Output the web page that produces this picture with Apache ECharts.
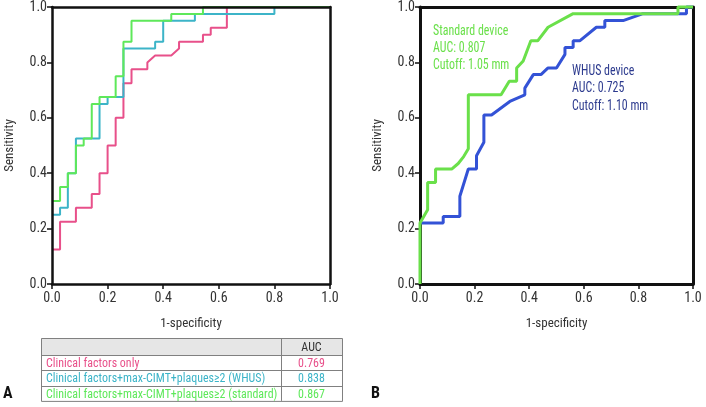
<!DOCTYPE html>
<html><head><meta charset="utf-8">
<script src="https://cdn.jsdelivr.net/npm/echarts@6/dist/echarts.min.js"></script>
<style>html,body{margin:0;padding:0;background:#fff}#c{width:706px;height:407px}</style>
</head><body><div id="c"></div>
<script>
const FONT = "'Liberation Sans Narrow','Roboto Condensed','Arial Narrow',sans-serif";
const tickValues = [0, 0.2, 0.4, 0.6, 0.8, 1.0];
const xAxisTitle = '1-specificity';
const yAxisTitle = 'Sensitivity';

// Panel A: ROC curves [1-specificity, sensitivity]
const clinicalOnly = [[0,0.125],[0.029,0.125],[0.029,0.225],[0.086,0.225],[0.086,0.275],[0.143,0.275],[0.143,0.325],[0.171,0.325],[0.171,0.40],[0.2,0.40],[0.2,0.50],[0.229,0.50],[0.229,0.60],[0.257,0.60],[0.257,0.725],[0.286,0.725],[0.286,0.775],[0.343,0.775],[0.343,0.80],[0.371,0.825],[0.429,0.825],[0.457,0.85],[0.457,0.875],[0.543,0.875],[0.543,0.90],[0.571,0.90],[0.571,0.925],[0.629,0.925],[0.629,1.0],[1.0,1.0]];
const clinicalWHUS = [[0,0.25],[0.029,0.25],[0.029,0.275],[0.057,0.275],[0.057,0.40],[0.086,0.40],[0.086,0.525],[0.171,0.525],[0.171,0.65],[0.2,0.65],[0.2,0.675],[0.257,0.675],[0.257,0.85],[0.371,0.85],[0.371,0.875],[0.40,0.875],[0.40,0.95],[0.514,0.95],[0.514,0.975],[0.80,0.975],[0.80,1.0],[1.0,1.0]];
const clinicalStandard = [[0,0.30],[0.029,0.30],[0.029,0.35],[0.057,0.35],[0.057,0.40],[0.086,0.40],[0.086,0.50],[0.114,0.50],[0.114,0.525],[0.143,0.525],[0.143,0.65],[0.171,0.65],[0.171,0.675],[0.229,0.675],[0.229,0.75],[0.257,0.75],[0.257,0.875],[0.286,0.875],[0.286,0.95],[0.429,0.95],[0.429,0.975],[0.543,0.975],[0.543,1.0],[1.0,1.0]];

// Panel B
const standardDevice = [[0,0],[0,0.22],[0.028,0.268],[0.028,0.366],[0.057,0.366],[0.057,0.415],[0.116,0.415],[0.14,0.435],[0.16,0.46],[0.177,0.488],[0.177,0.683],[0.297,0.683],[0.327,0.732],[0.354,0.732],[0.354,0.78],[0.378,0.805],[0.406,0.878],[0.431,0.878],[0.469,0.927],[0.561,0.976],[0.945,0.976],[0.945,1.0],[1.0,1.0]];
const whusDevice = [[0,0.22],[0.085,0.22],[0.085,0.244],[0.146,0.244],[0.146,0.317],[0.177,0.415],[0.207,0.415],[0.207,0.463],[0.234,0.512],[0.234,0.61],[0.262,0.61],[0.329,0.659],[0.384,0.683],[0.384,0.707],[0.415,0.756],[0.443,0.756],[0.469,0.78],[0.5,0.78],[0.531,0.829],[0.531,0.854],[0.561,0.854],[0.561,0.878],[0.585,0.878],[0.646,0.927],[0.677,0.927],[0.677,0.951],[0.744,0.951],[0.817,0.976],[0.976,0.976],[0.976,1.0],[1.0,1.0]];

const tableHeader = ['', 'AUC'];
const tableLabels = ['Clinical factors only', 'Clinical factors+max-CIMT+plaques\u22652 (WHUS)', 'Clinical factors+max-CIMT+plaques\u22652 (standard)'];
const tableAUC = ['0.769', '0.838', '0.867'];
const colorsA = ['#e8508a', '#3cb4c8', '#5ee85a'];

const standardText = ['Standard device', 'AUC: 0.807', 'Cutoff: 1.05 mm'];
const whusText = ['WHUS device', 'AUC: 0.725', 'Cutoff: 1.10 mm'];
const colorsB = ['#6ae04a', '#3352d6'];
const whusTextColor = '#2c3a8e';

const chart = echarts.init(document.getElementById('c'), null, {renderer: 'canvas'});

function xAxes(gi, z, lw) {
  return [
    {gridIndex: gi, type: 'value', min: 0, max: 1, interval: 0.2, position: 'bottom', z: z,
     axisLine: {onZero: false, lineStyle: {color: '#111', width: lw}},
     axisTick: {length: 5, lineStyle: {color: '#111', width: 1.5}},
     axisLabel: {formatter: v => v.toFixed(1), fontSize: 14, color: '#333', margin: 7, fontFamily: FONT},
     splitLine: {show: false},
     name: xAxisTitle, nameLocation: 'middle', nameGap: 33,
     nameTextStyle: {fontSize: 13, color: '#333', fontFamily: FONT}},
    {gridIndex: gi, type: 'value', min: 0, max: 1, interval: 0.2, position: 'top', z: z,
     axisLine: {onZero: false, lineStyle: {color: '#111', width: lw}},
     axisTick: {show: false}, axisLabel: {show: false}, splitLine: {show: false}}
  ];
}
function yAxes(gi, z, lw) {
  return [
    {gridIndex: gi, type: 'value', min: 0, max: 1, interval: 0.2, position: 'left', z: z,
     axisLine: {onZero: false, lineStyle: {color: '#111', width: lw}},
     axisTick: {length: 5, lineStyle: {color: '#111', width: 1.5}},
     axisLabel: {formatter: v => v.toFixed(1), fontSize: 14, color: '#333', margin: 5, fontFamily: FONT},
     splitLine: {show: false},
     name: yAxisTitle, nameLocation: 'middle', nameGap: 36, nameRotate: 90,
     nameTextStyle: {fontSize: 13, color: '#333', fontFamily: FONT}},
    {gridIndex: gi, type: 'value', min: 0, max: 1, interval: 0.2, position: 'right', z: z,
     axisLine: {onZero: false, lineStyle: {color: '#111', width: lw}},
     axisTick: {show: false}, axisLabel: {show: false}, splitLine: {show: false}}
  ];
}

function lineSeries(data, color, xi, yi, w, z) {
  return {type: 'line', data: data, xAxisIndex: xi, yAxisIndex: yi, symbol: 'none',
          clip: false, z: z, lineStyle: {color: color, width: w}, itemStyle: {color: color}};
}

const graphics = [];
// Table for panel A
const tL = 41, tR = 342, tDiv = 281, tTop = 338, hH = 17, rH = 15.3;
const tBottom = tTop + hH + rH * tableLabels.length;
graphics.push({type: 'rect', shape: {x: tL, y: tTop, width: tR - tL, height: hH}, style: {fill: '#e6e6e6', stroke: null}});
const lineStyle = {stroke: '#808080', lineWidth: 1};
graphics.push({type: 'rect', shape: {x: tL + 0.5, y: tTop + 0.5, width: tR - tL, height: tBottom - tTop}, style: {fill: null, stroke: '#808080', lineWidth: 1}});
graphics.push({type: 'line', shape: {x1: tDiv + 0.5, y1: tTop, x2: tDiv + 0.5, y2: tBottom}, style: lineStyle});
for (let i = 0; i < tableLabels.length; i++) {
  const y = Math.round(tTop + hH + rH * i) + 0.5;
  graphics.push({type: 'line', shape: {x1: tL, y1: y, x2: tR, y2: y}, style: lineStyle});
}
const tScale = 0.92;
graphics.push({type: 'text', x: (tDiv + tR) / 2, y: tTop + hH / 2 + 1, scaleX: tScale, style: {text: tableHeader[1], fill: '#333', font: '13px ' + FONT, textAlign: 'center', textVerticalAlign: 'middle'}});
tableLabels.forEach((lab, i) => {
  const cy = tTop + hH + rH * i + rH / 2 + 1;
  graphics.push({type: 'text', x: tL + 5, y: cy, scaleX: tScale, style: {text: lab, fill: colorsA[i], font: '13px ' + FONT, textAlign: 'left', textVerticalAlign: 'middle'}});
  graphics.push({type: 'text', x: (tDiv + tR) / 2, y: cy, scaleX: tScale, style: {text: tableAUC[i], fill: colorsA[i], font: '13px ' + FONT, textAlign: 'center', textVerticalAlign: 'middle'}});
});
// Panel B annotations
const aScale = 0.85;
standardText.forEach((t, i) => {
  graphics.push({type: 'text', x: 433, y: 31 + i * 17, scaleX: aScale, style: {text: t, fill: colorsB[0], font: '14px ' + FONT, textAlign: 'left', textVerticalAlign: 'middle'}});
});
whusText.forEach((t, i) => {
  graphics.push({type: 'text', x: 572, y: 71 + i * 17.5, scaleX: aScale, style: {text: t, fill: whusTextColor, font: '14px ' + FONT, textAlign: 'left', textVerticalAlign: 'middle'}});
});
// Panel labels
graphics.push({type: 'text', x: 3, y: 394, style: {text: 'A', fill: '#111', font: 'bold 16px ' + FONT, textAlign: 'left', textVerticalAlign: 'middle'}});
graphics.push({type: 'text', x: 371, y: 394, style: {text: 'B', fill: '#111', font: 'bold 16px ' + FONT, textAlign: 'left', textVerticalAlign: 'middle'}});

chart.setOption({
  animation: false,
  backgroundColor: '#fff',
  grid: [
    {left: 52, top: 7, width: 278, height: 277},
    {left: 420, top: 7, width: 273, height: 277}
  ],
  xAxis: [...xAxes(0, 5, 2.5), ...xAxes(1, 1, 3)],
  yAxis: [...yAxes(0, 5, 2.5), ...yAxes(1, 1, 3)],
  series: [
    lineSeries(clinicalOnly, colorsA[0], 0, 0, 2, 2),
    lineSeries(clinicalWHUS, colorsA[1], 0, 0, 2, 3),
    lineSeries(clinicalStandard, colorsA[2], 0, 0, 2, 4),
    lineSeries(whusDevice, colorsB[1], 2, 2, 3, 3),
    lineSeries(standardDevice, colorsB[0], 2, 2, 3, 4)
  ],
  graphic: graphics
});
</script>
</body></html>
